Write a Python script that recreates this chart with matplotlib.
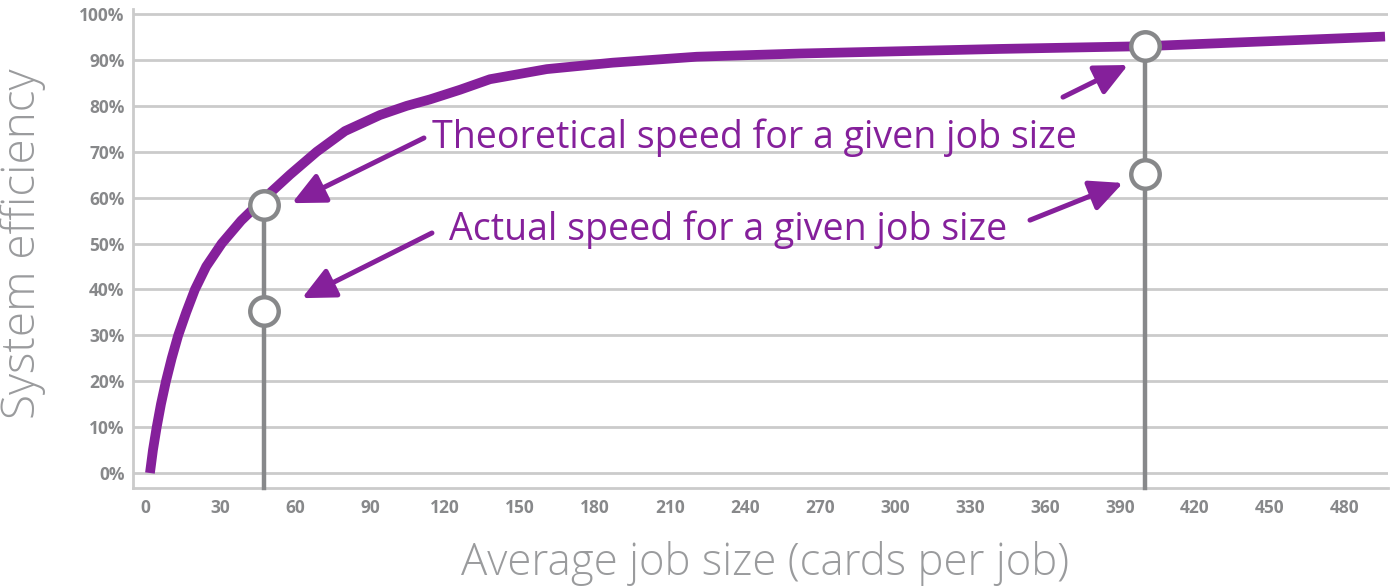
"""System efficiency vs average job size, with theoretical/actual speed call-outs."""

import matplotlib
matplotlib.use("Agg")
import matplotlib.pyplot as plt  # noqa: E402

# --------------------------------------------------------------------------- data
job_size = [2, 3.2, 4.7, 6.4, 8.4, 10.7, 13.3, 16.5, 20, 24.5, 30.7, 38.5, 48, 58, 68.7,
            80, 94, 104.7, 114, 126, 138, 160.7, 187, 220.7, 262, 342, 400, 496]
efficiency = [0, 5, 10, 15, 20, 25, 30, 35, 40, 45, 50, 55, 60, 65, 70,
              74.5, 78, 80, 81.4, 83.5, 85.8, 88, 89.4, 90.7, 91.4, 92.4, 93.0, 95.1]

marker_x = [47.5, 400]
theoretical = [58.3, 93.0]
actual = [35.3, 65.1]

x_ticks = list(range(0, 481, 30))
y_ticks = list(range(0, 101, 10))

label_theory = "Theoretical speed for a given job size"
label_actual = "Actual speed for a given job size"

# arrows: (tail, tip) in data coords
arrows = [((111.6, 73.0), (58.8, 58.8)),
          ((114.8, 52.3), (62.8, 38.1)),
          ((367.2, 81.9), (393.2, 88.9)),
          ((354.0, 55.1), (391.2, 63.2))]

# --------------------------------------------------------------------------- style
PURPLE = "#85209b"
GREY = "#87888a"
GRID = "#cbcbcb"
LABEL = "#9a9b9d"
plt.rcParams["font.family"] = ["Open Sans", "DejaVu Sans"]

fig = plt.figure(figsize=(13.95, 5.88), dpi=100)
ax = fig.add_axes([0.0953, 0.170, 0.8997, 0.8147])
ax.set_xlim(-4.8, 497.2)
ax.set_ylim(-3.27, 101.1)

for y in y_ticks:
    ax.axhline(y, color=GRID, lw=2, zorder=0)
for side in ("top", "right"):
    ax.spines[side].set_visible(False)
for side in ("left", "bottom"):
    ax.spines[side].set_color(GRID)
    ax.spines[side].set_linewidth(2)

ax.plot(job_size, efficiency, color=PURPLE, lw=7, solid_capstyle="butt",
        solid_joinstyle="round", zorder=2)

# drop lines from the axis to the theoretical marker
for x, t in zip(marker_x, theoretical):
    ax.plot([x, x], [-3.27, t], color=GREY, lw=3.2, zorder=3, clip_on=False)
ax.plot(marker_x, theoretical, "o", ms=20.5, mfc="white", mec=GREY, mew=3.2, zorder=4, ls="none")
ax.plot(marker_x, actual, "o", ms=20.5, mfc="white", mec=GREY, mew=3.2, zorder=4, ls="none")

for tail, tip in arrows:
    ax.annotate("", xy=tip, xytext=tail,
                arrowprops=dict(arrowstyle="-|>,head_length=1.05,head_width=0.5",
                                mutation_scale=19, lw=3.6, color=PURPLE,
                                shrinkA=0, shrinkB=0), zorder=5)

ax.text(114.8, 73.0, label_theory, color=PURPLE, fontsize=27, va="center", ha="left")
ax.text(121.8, 53.0, label_actual, color=PURPLE, fontsize=27, va="center", ha="left")

ax.set_xticks(x_ticks)
ax.set_yticks(y_ticks)
ax.set_yticklabels([f"{v}%" for v in y_ticks])
ax.tick_params(length=0, colors=GREY, labelsize=12.5)
ax.tick_params(axis="y", pad=6)
ax.tick_params(axis="x", pad=8)
for lbl in ax.get_xticklabels() + ax.get_yticklabels():
    lbl.set_fontweight("bold")

ax.set_ylabel("System efficiency", color=LABEL, fontsize=33, fontweight="light")
ax.set_xlabel("Average job size (cards per job)", color=LABEL, fontsize=31.5,
              fontweight="light")
ax.yaxis.set_label_coords(-0.0693, 0.510)
ax.xaxis.set_label_coords(0.504, -0.110)

fig.savefig("out.png", dpi=100, facecolor="white")
